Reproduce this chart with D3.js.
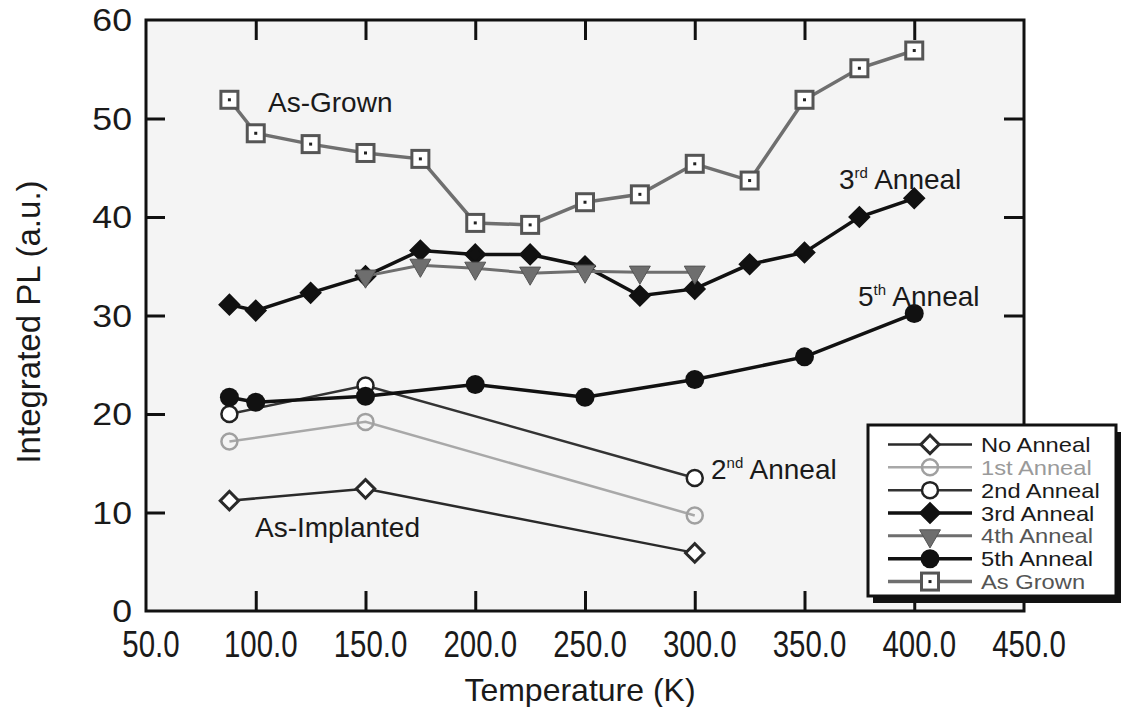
<!DOCTYPE html>
<html>
<head>
<meta charset="utf-8">
<script src="https://cdn.jsdelivr.net/npm/d3@7/dist/d3.min.js"></script>
<style>
    body { margin: 0; background: #ffffff; }
    text { font-family: "Liberation Sans", Arial, Helvetica, sans-serif; fill: #1a1a1a; }
</style>
</head>
<body>
<div id="chart"></div>
<script>
//data (temperature in K, integrated PL in a.u.)
var noAnnealT = [88, 150, 300];
var noAnnealPL = [11.2, 12.4, 5.9];
var firstAnnealT = [88, 150, 300];
var firstAnnealPL = [17.2, 19.2, 9.7];
var secondAnnealT = [88, 150, 300];
var secondAnnealPL = [20.0, 22.9, 13.5];
var thirdAnnealT = [88, 100, 125, 150, 175, 200, 225, 250, 275, 300, 325, 350, 375, 400];
var thirdAnnealPL = [31.1, 30.5, 32.3, 34.0, 36.6, 36.2, 36.2, 35.0, 32.0, 32.7, 35.2, 36.4, 40.0, 41.9];
var fourthAnnealT = [150, 175, 200, 225, 250, 275, 300];
var fourthAnnealPL = [34.0, 35.1, 34.8, 34.3, 34.5, 34.4, 34.4];
var fifthAnnealT = [88, 100, 150, 200, 250, 300, 350, 400];
var fifthAnnealPL = [21.7, 21.2, 21.8, 23.0, 21.7, 23.5, 25.8, 30.2];
var asGrownT = [88, 100, 125, 150, 175, 200, 225, 250, 275, 300, 325, 350, 375, 400];
var asGrownPL = [51.9, 48.5, 47.4, 46.5, 45.9, 39.4, 39.2, 41.5, 42.3, 45.4, 43.7, 51.9, 55.1, 56.9];

var seriesNames = ["No Anneal", "1st Anneal", "2nd Anneal", "3rd Anneal", "4th Anneal", "5th Anneal", "As Grown"];
var xTicks = [50, 100, 150, 200, 250, 300, 350, 400, 450];
var yTicks = [0, 10, 20, 30, 40, 50, 60];

//globals
var width = 1122, height = 707, svg, x, y;
var margin = { left: 146, right: 1024, top: 20, bottom: 611 };

function init() {

    svg = d3.select("#chart").append("svg")
        .attr("width", width)
        .attr("height", height);

    x = d3.scaleLinear().domain([50, 450]).range([margin.left, margin.right]);
    y = d3.scaleLinear().domain([0, 60]).range([margin.bottom, margin.top]);

    drawFrame();
    drawSeries();
    drawLabels();
    drawLegend();
}

function drawFrame() {

    // light scanned-paper background of the plot area
    svg.append("rect")
        .attr("x", margin.left).attr("y", margin.top)
        .attr("width", margin.right - margin.left)
        .attr("height", margin.bottom - margin.top)
        .style("fill", "#f4f4f4");

    // inner ticks, left and right
    svg.append("g")
        .attr("transform", "translate(" + margin.left + ",0)")
        .call(d3.axisRight(y).tickValues(yTicks.slice(1, -1)).tickSize(19).tickFormat(""))
        .call(styleTicks);

    svg.append("g")
        .attr("transform", "translate(" + margin.right + ",0)")
        .call(d3.axisLeft(y).tickValues([30, 40, 50]).tickSize(20).tickFormat(""))
        .call(styleTicks);

    // inner ticks, top and bottom
    var xInner = xTicks.slice(1, -1);
    svg.append("g")
        .attr("transform", "translate(0," + margin.top + ")")
        .call(d3.axisBottom(x).tickValues(xInner).tickSize(20).tickFormat(""))
        .call(styleTicks);

    svg.append("g")
        .attr("transform", "translate(0," + margin.bottom + ")")
        .call(d3.axisTop(x).tickValues(xInner).tickSize(20).tickFormat(""))
        .call(styleTicks);

    // frame
    svg.append("rect")
        .attr("x", margin.left).attr("y", margin.top)
        .attr("width", margin.right - margin.left)
        .attr("height", margin.bottom - margin.top)
        .style("fill", "none")
        .style("stroke", "#111")
        .style("stroke-width", 3);

    // tick labels (the y labels look a bit wide, the x labels a bit tall in the scan)
    svg.append("g").selectAll("text")
        .data(yTicks)
        .enter().append("text")
        .attr("transform", function (d) { return "translate(132," + y(d) + ") scale(1.15,1)"; })
        .attr("dy", "0.36em")
        .attr("text-anchor", "end")
        .style("font-size", "31px")
        .text(function (d) { return d; });

    svg.append("g").selectAll("text")
        .data(xTicks)
        .enter().append("text")
        .attr("transform", function (d) { return "translate(" + (x(d) + 5) + ",657) scale(0.92,1.15)"; })
        .attr("text-anchor", "middle")
        .style("font-size", "32px")
        .text(function (d) { return d3.format(".1f")(d); });

    // axis titles
    svg.append("text")
        .attr("x", 580)
        .attr("y", 701)
        .attr("text-anchor", "middle")
        .style("font-size", "32px")
        .text("Temperature (K)");

    svg.append("text")
        .attr("transform", "translate(40,322) rotate(-90)")
        .attr("text-anchor", "middle")
        .style("font-size", "33px")
        .text("Integrated PL (a.u.)");
}

function styleTicks(g) {
    g.select(".domain").remove();
    g.selectAll(".tick line").style("stroke", "#111").style("stroke-width", 3);
}

// marker styles per series
function seriesStyle(i) {
    return [
        { line: "#2a2a2a", width: 2.5, shape: "diamond", fill: "#ffffff", stroke: "#2a2a2a" },
        { line: "#a8a8a8", width: 2.5, shape: "circle", fill: "none", stroke: "#a0a0a0" },
        { line: "#333333", width: 2.5, shape: "circle", fill: "#ffffff", stroke: "#222222" },
        { line: "#111111", width: 3.5, shape: "diamond", fill: "#111111", stroke: "#111111" },
        { line: "#6e6e6e", width: 3, shape: "triangle", fill: "#6e6e6e", stroke: "#6e6e6e" },
        { line: "#111111", width: 3.5, shape: "dot", fill: "#111111", stroke: "#111111" },
        { line: "#6f6f6f", width: 3.5, shape: "square", fill: "#ffffff", stroke: "#555555" }
    ][i];
}

function drawMarker(g, shape, st) {
    if (shape === "diamond") {
        g.append("rect")
            .attr("x", -6.5).attr("y", -6.5).attr("width", 13).attr("height", 13)
            .attr("transform", "rotate(45)")
            .style("fill", st.fill).style("stroke", st.stroke).style("stroke-width", 3);
    } else if (shape === "circle") {
        g.append("circle").attr("r", 8)
            .style("fill", st.fill).style("stroke", st.stroke).style("stroke-width", 2.5);
    } else if (shape === "dot") {
        g.append("circle").attr("r", 9.5).style("fill", st.fill);
    } else if (shape === "triangle") {
        g.append("path")
            .attr("d", d3.symbol().type(d3.symbolTriangle).size(190)())
            .attr("transform", "rotate(180)")
            .style("fill", st.fill).style("stroke", "#555").style("stroke-width", 1);
    } else if (shape === "square") {
        g.append("rect")
            .attr("x", -8.5).attr("y", -8.5).attr("width", 17).attr("height", 17)
            .style("fill", st.fill).style("stroke", st.stroke).style("stroke-width", 3);
        g.append("rect")
            .attr("x", -1.5).attr("y", -1.5).attr("width", 3).attr("height", 3)
            .style("fill", "#222");
    }
}

function drawSeries() {

    var allT = [noAnnealT, firstAnnealT, secondAnnealT, thirdAnnealT, fourthAnnealT, fifthAnnealT, asGrownT];
    var allPL = [noAnnealPL, firstAnnealPL, secondAnnealPL, thirdAnnealPL, fourthAnnealPL, fifthAnnealPL, asGrownPL];

    var line = d3.line()
        .x(function (d) { return x(d[0]); })
        .y(function (d) { return y(d[1]); });

    for (var i = 0; i < seriesNames.length; i++) {
        var st = seriesStyle(i);
        var pts = d3.zip(allT[i], allPL[i]);
        var g = svg.append("g").attr("class", "series");

        g.append("path")
            .datum(pts)
            .attr("d", line)
            .style("fill", "none")
            .style("stroke", st.line)
            .style("stroke-width", st.width);

        g.selectAll(".marker")
            .data(pts)
            .enter().append("g")
            .attr("class", "marker")
            .attr("transform", function (d) { return "translate(" + x(d[0]) + "," + y(d[1]) + ")"; })
            .each(function () { drawMarker(d3.select(this), st.shape, st); });
    }
}

function drawLabels() {

    // in-plot annotations
    var notes = [
        { t: "As-Grown", sup: "", rest: "", x: 268, y: 112 },
        { t: "3", sup: "rd", rest: " Anneal", x: 839, y: 189 },
        { t: "5", sup: "th", rest: " Anneal", x: 858, y: 306 },
        { t: "2", sup: "nd", rest: " Anneal", x: 711, y: 479 },
        { t: "As-Implanted", sup: "", rest: "", x: 255, y: 537 }
    ];

    notes.forEach(function (n) {
        var txt = svg.append("text")
            .attr("x", n.x)
            .attr("y", n.y)
            .style("font-size", "28px");
        txt.append("tspan").text(n.t);
        if (n.sup) {
            txt.append("tspan").attr("dy", -11).style("font-size", "15px").text(n.sup);
            txt.append("tspan").attr("dy", 11).text(n.rest);
        }
    });
}

function drawLegend() {

    var lx = 868, ly = 425, lw = 248, lh = 171;

    var legend = svg.append("g").attr("class", "legend");

    // shadow
    legend.append("rect")
        .attr("x", lx + 5).attr("y", ly + 7)
        .attr("width", lw).attr("height", lh)
        .style("fill", "#111");

    legend.append("rect")
        .attr("x", lx).attr("y", ly)
        .attr("width", lw).attr("height", lh)
        .style("fill", "#ffffff")
        .style("stroke", "#111")
        .style("stroke-width", 3);

    var row = d3.scaleBand().domain(seriesNames).range([ly + 8, ly + lh - 3]);

    seriesNames.forEach(function (name, i) {
        var st = seriesStyle(i);
        var cy = row(name) + row.bandwidth() / 2;
        legend.append("line")
            .attr("x1", lx + 20).attr("x2", lx + 104)
            .attr("y1", cy).attr("y2", cy)
            .style("stroke", st.line)
            .style("stroke-width", st.width);
        var m = legend.append("g").attr("transform", "translate(" + (lx + 62) + "," + cy + ")");
        drawMarker(m, st.shape, st);
        legend.append("text")
            .attr("transform", "translate(" + (lx + 113) + "," + cy + ") scale(1.13,1)")
            .attr("dy", "0.36em")
            .style("font-size", "21px")
            .style("fill", i === 1 ? "#9a9a9a" : i === 4 || i === 6 ? "#555" : "#1a1a1a")
            .text(name);
    });
}

window.onload = init();
</script>
</body>
</html>
